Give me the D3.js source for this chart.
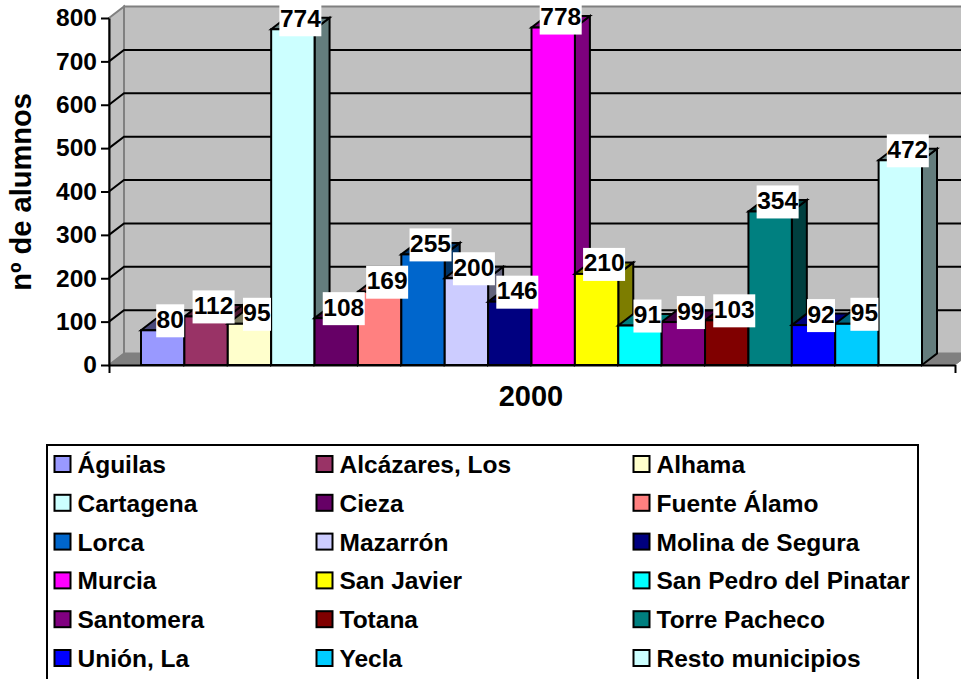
<!DOCTYPE html>
<html>
<head>
<meta charset="utf-8">
<script src="https://cdnjs.cloudflare.com/ajax/libs/d3/7.8.5/d3.min.js"></script>
<style>
  html, body { margin: 0; padding: 0; background: #fff; overflow: hidden; }
  text { font-family: "Liberation Sans", Arial, sans-serif; font-weight: bold; fill: #000; }
</style>
</head>
<body>
<div id="chart"></div>
<script>
const municipios = ["Águilas", "Alcázares, Los", "Alhama", "Cartagena", "Cieza", "Fuente Álamo",
  "Lorca", "Mazarrón", "Molina de Segura", "Murcia", "San Javier", "San Pedro del Pinatar",
  "Santomera", "Totana", "Torre Pacheco", "Unión, La", "Yecla", "Resto municipios"];
const alumnos = [80, 112, 95, 774, 108, 169, 255, 200, 146, 778, 210, 91, 99, 103, 354, 92, 95, 472];
const colores = ["#9999FF", "#993366", "#FFFFCC", "#CCFFFF", "#660066", "#FF8080",
  "#0066CC", "#CCCCFF", "#000080", "#FF00FF", "#FFFF00", "#00FFFF",
  "#800080", "#800000", "#008080", "#0000FF", "#00CCFF", "#CCFFFF"];
const yTicks = [0, 100, 200, 300, 400, 500, 600, 700, 800];
const year = "2000";

const width = 961, height = 679;
const depthX = 15, depthY = -11.5; // 3d offset of the back wall
const axisLeft = 109, axisRight = 955;
const labelSize = "24.5px", titleSize = "29px";

const svg = d3.select("#chart").append("svg")
    .attr("width", width)
    .attr("height", height)
    .style("display", "block");

const x = d3.scaleBand().domain(municipios).range([141, 922]).padding(0);
const y = d3.scaleLinear().domain([0, 800]).range([365, 18]);

const pts = arr => arr.map(p => p.join(",")).join(" ");

// walls and floor
svg.append("polygon")
    .attr("points", pts([[axisLeft + depthX, y(800) + depthY], [axisRight + depthX, y(800) + depthY],
      [axisRight + depthX, y(0) + depthY], [axisLeft + depthX, y(0) + depthY]]))
    .attr("fill", "#c0c0c0").attr("stroke", "#808080").attr("stroke-width", 2);
svg.append("polygon")
    .attr("points", pts([[axisLeft, y(800)], [axisLeft + depthX, y(800) + depthY],
      [axisLeft + depthX, y(0) + depthY], [axisLeft, y(0)]]))
    .attr("fill", "#c0c0c0").attr("stroke", "#808080").attr("stroke-width", 2);
svg.append("polygon")
    .attr("points", pts([[axisLeft, y(0)], [axisLeft + depthX, y(0) + depthY],
      [axisRight + depthX, y(0) + depthY], [axisRight, y(0)]]))
    .attr("fill", "#808080").attr("stroke", "#808080").attr("stroke-width", 1);

// gridlines on back wall and the slanted bit on the left wall
const grid = svg.append("g");
grid.selectAll("path")
    .data(yTicks.filter(d => d > 0))
    .enter().append("path")
    .attr("d", d => `M${axisLeft},${y(d)}L${axisLeft + depthX},${y(d) + depthY}L${axisRight + depthX},${y(d) + depthY}`)
    .attr("fill", "none")
    .attr("stroke", d => d == 800 ? "none" : "#000")
    .attr("stroke-width", 2);

// columns
const bars = svg.append("g").selectAll("g")
    .data(municipios)
    .enter().append("g")
    .attr("stroke", "#000")
    .attr("stroke-width", 2)
    .attr("stroke-linejoin", "miter");

bars.append("polygon") // side
    .attr("points", (d, i) => {
      const r = x(d) + x.bandwidth(), t = y(alumnos[i]), b = y(0);
      return pts([[r, t], [r + depthX, t + depthY], [r + depthX, b + depthY], [r, b]]);
    })
    .attr("fill", (d, i) => d3.color(colores[i]).darker(2).formatHex());
bars.append("polygon") // top
    .attr("points", (d, i) => {
      const l = x(d), r = l + x.bandwidth(), t = y(alumnos[i]);
      return pts([[l, t], [l + depthX, t + depthY], [r + depthX, t + depthY], [r, t]]);
    })
    .attr("fill", (d, i) => d3.color(colores[i]).darker(2).formatHex());
bars.append("rect") // front
    .attr("x", d => x(d))
    .attr("y", (d, i) => y(alumnos[i]))
    .attr("width", x.bandwidth())
    .attr("height", (d, i) => y(0) - y(alumnos[i]))
    .attr("fill", (d, i) => colores[i]);

// axes
const gy = svg.append("g")
    .attr("transform", `translate(${axisLeft},0)`)
    .call(d3.axisLeft(y).tickValues(yTicks).tickSize(8).tickPadding(4).tickSizeOuter(0));
gy.selectAll("path,line").attr("stroke", "#000").attr("stroke-width", 2);
gy.selectAll("text").style("font-size", labelSize).attr("font-family", null);

const xAxisScale = d3.scaleLinear().domain([0, 1]).range([axisLeft, axisRight]);
const gx = svg.append("g")
    .attr("transform", `translate(0,${y(0)})`)
    .call(d3.axisBottom(xAxisScale).tickValues([0, 1]).tickSize(8).tickSizeOuter(0).tickFormat(""));
gx.selectAll("path,line").attr("stroke", "#000").attr("stroke-width", 2);

// value labels
const labels = svg.append("g").selectAll("g")
    .data(municipios)
    .enter().append("g")
    .attr("transform", (d, i) => `translate(${x(d) + x.bandwidth() / 2 + depthX / 2},${y(alumnos[i]) + depthY + 2})`);
labels.append("rect")
    .attr("x", (d, i) => String(alumnos[i]).length == 3 ? -21 : -14)
    .attr("y", -16.5)
    .attr("width", (d, i) => String(alumnos[i]).length == 3 ? 42 : 28)
    .attr("height", 33)
    .attr("fill", "#fff");
labels.append("text")
    .attr("text-anchor", "middle")
    .attr("y", 7)
    .style("font-size", labelSize)
    .text((d, i) => alumnos[i]);

// titles
svg.append("text")
    .attr("text-anchor", "middle")
    .attr("x", 531).attr("y", 406)
    .style("font-size", titleSize)
    .text(year);
svg.append("text")
    .attr("text-anchor", "middle")
    .attr("transform", "translate(31,192) rotate(-90)")
    .style("font-size", titleSize)
    .text("nº de alumnos");

// legend
const legendCols = [54.5, 316.5, 633.5];
const legendRow = d3.scaleLinear().domain([0, 5]).range([464, 658]);
svg.append("rect")
    .attr("x", 47).attr("y", 445)
    .attr("width", 871).attr("height", 240)
    .attr("fill", "#fff").attr("stroke", "#000").attr("stroke-width", 2);
const items = svg.append("g").selectAll("g")
    .data(municipios)
    .enter().append("g")
    .attr("transform", (d, i) => `translate(${legendCols[i % 3]},${legendRow(Math.floor(i / 3))})`);
items.append("rect")
    .attr("x", 0).attr("y", -8)
    .attr("width", 16).attr("height", 16)
    .attr("fill", (d, i) => colores[i])
    .attr("stroke", "#000").attr("stroke-width", 2);
items.append("text")
    .attr("x", 23).attr("y", 9)
    .style("font-size", labelSize)
    .text(d => d);
</script>
</body>
</html>
